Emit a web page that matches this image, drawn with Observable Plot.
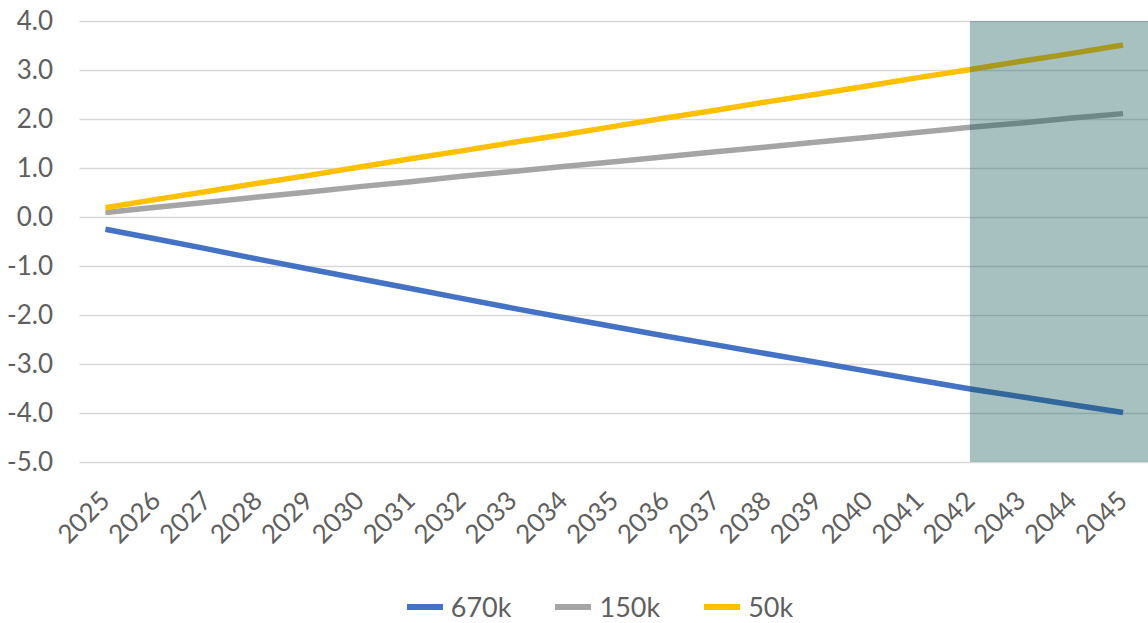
<!DOCTYPE html>
<html>
<head>
<meta charset="utf-8">
<script src="https://cdn.jsdelivr.net/npm/d3@7"></script>
<script src="https://cdn.jsdelivr.net/npm/@observablehq/plot@0.6"></script>
<style>
  html, body { margin: 0; padding: 0; background: #fff; }
  #chart { width: 1148px; height: 623px; overflow: hidden; font-family: Lato, "Open Sans", sans-serif; }
  .legend { display: flex; justify-content: center; align-items: center; gap: 44px; height: 53px; padding-top: 20px; font-size: 27px; color: #5f5f5f; padding-left: 52px; box-sizing: border-box; }
  .legend .item { display: flex; align-items: center; gap: 8px; }
  .legend .swatch { width: 36px; height: 6px; }
</style>
</head>
<body>
<div id="chart"></div>
<script>
// Years on the horizontal axis
const years = [2025, 2026, 2027, 2028, 2029, 2030, 2031, 2032, 2033, 2034, 2035,
               2036, 2037, 2038, 2039, 2040, 2041, 2042, 2043, 2044, 2045];

// Series values per year
const values670k = [-0.24, -0.44, -0.64, -0.85, -1.05, -1.25, -1.45, -1.65, -1.85, -2.04, -2.23,
                    -2.42, -2.60, -2.78, -2.96, -3.14, -3.32, -3.50, -3.66, -3.82, -3.98];
const values150k = [0.10, 0.21, 0.31, 0.42, 0.52, 0.63, 0.73, 0.84, 0.94, 1.04, 1.14,
                    1.24, 1.34, 1.44, 1.54, 1.64, 1.74, 1.84, 1.93, 2.03, 2.12];
const values50k  = [0.20, 0.37, 0.53, 0.70, 0.86, 1.03, 1.20, 1.36, 1.53, 1.69, 1.86,
                    2.03, 2.19, 2.36, 2.52, 2.69, 2.86, 3.02, 3.19, 3.35, 3.52];

const seriesNames = ["670k", "150k", "50k"];
const seriesColors = ["#4472C4", "#A5A5A5", "#FFC000"];

// Value axis ticks
const yTicks = [4, 3, 2, 1, 0, -1, -2, -3, -4, -5];

// Highlighted period
const shadeStart = 2042;

const seriesValues = [values670k, values150k, values50k];
const rows = seriesNames.flatMap((name, i) =>
  years.map((year, j) => ({ series: name, year, value: seriesValues[i][j] }))
);

const xMin = years[0] - 0.5;
const xMax = years[years.length - 1] + 0.5;

const chart = Plot.plot({
  width: 1148,
  height: 570,
  marginLeft: 79.5,
  marginRight: 0,
  marginTop: 21,
  marginBottom: 108,
  style: { fontFamily: "Lato, 'Open Sans', sans-serif", fontSize: "26px", color: "#5f5f5f", background: "#fff", overflow: "visible" },
  x: { domain: [xMin, xMax] },
  y: { domain: [yTicks[yTicks.length - 1], yTicks[0]] },
  color: { domain: seriesNames, range: seriesColors },
  marks: [
    Plot.ruleY(yTicks, { x1: xMin, x2: xMax, stroke: "#d9d9d9", strokeWidth: 1.6 }),
    Plot.line(rows, {
      x: "year", y: "value", z: "series", stroke: "series",
      strokeWidth: 5.5, strokeLinecap: "butt", strokeLinejoin: "round"
    }),
    Plot.rect([{ x1: shadeStart, x2: xMax }], {
      x1: "x1", x2: "x2", y1: yTicks[yTicks.length - 1], y2: yTicks[0],
      fill: "#0f5555", fillOpacity: 0.37
    }),
    Plot.axisY(yTicks, {
      tickSize: 0, tickPadding: 27, label: null,
      tickFormat: d => d.toFixed(1), fill: "#5f5f5f"
    }),
    Plot.axisX(years, {
      tickSize: 0, tickPadding: 34, tickRotate: -45, label: null,
      tickFormat: d => String(d), fill: "#5f5f5f"
    })
  ]
});

const root = document.getElementById("chart");
root.appendChild(chart);

// Legend below the plot
const legend = document.createElement("div");
legend.className = "legend";
seriesNames.forEach((name, i) => {
  const item = document.createElement("div");
  item.className = "item";
  const sw = document.createElement("span");
  sw.className = "swatch";
  sw.style.background = seriesColors[i];
  const label = document.createElement("span");
  label.textContent = name;
  item.appendChild(sw);
  item.appendChild(label);
  legend.appendChild(item);
});
root.appendChild(legend);
</script>
</body>
</html>
